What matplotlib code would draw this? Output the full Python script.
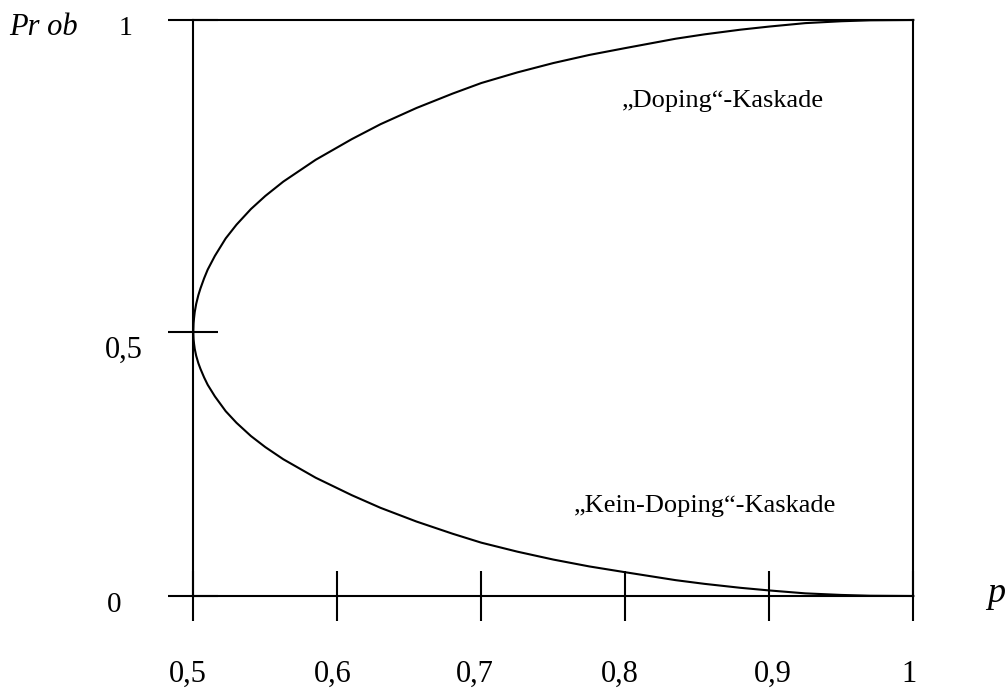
import numpy as np
import matplotlib
matplotlib.use("Agg")
import matplotlib.pyplot as plt
import matplotlib.transforms as mtransforms

# ---- data ----
p_vals = [0.5, 0.5002, 0.5005, 0.501, 0.502, 0.5035, 0.505, 0.5075, 0.51, 0.515,
          0.5225, 0.53, 0.54, 0.55, 0.5625, 0.585, 0.61, 0.63, 0.655, 0.68,
          0.70, 0.725, 0.75, 0.775, 0.80, 0.835, 0.855, 0.88, 0.90, 0.925,
          0.95, 0.97, 1.0]
doping_cascade = [0.5, 0.514, 0.522, 0.532, 0.545, 0.559, 0.570, 0.586, 0.600, 0.622,
                  0.650, 0.672, 0.697, 0.718, 0.741, 0.776, 0.809, 0.833, 0.859, 0.882,
                  0.899, 0.916, 0.931, 0.944, 0.955, 0.970, 0.977, 0.9845, 0.9895, 0.995,
                  0.998, 0.9995, 1.0]
no_doping_cascade = [0.5, 0.486, 0.478, 0.468, 0.455, 0.441, 0.430, 0.414, 0.400, 0.378,
                     0.350, 0.328, 0.303, 0.282, 0.259, 0.224, 0.191, 0.167, 0.141, 0.118,
                     0.101, 0.084, 0.069, 0.056, 0.045, 0.030, 0.023, 0.0155, 0.0105, 0.005,
                     0.002, 0.0005, 0.0]
x_ticks = [0.5, 0.6, 0.7, 0.8, 0.9, 1.0]
x_tick_labels = ["0,5", "0,6", "0,7", "0,8", "0,9", "1"]
y_ticks = [0.0, 0.5, 1.0]
y_tick_labels = ["0", "0,5", "1"]
label_upper = "\u201eDoping\u201c-Kaskade"
label_lower = "\u201eKein-Doping\u201c-Kaskade"

# ---- piecewise linear y scale (0.5 sits below the middle) ----
A = 264.0 / 576.0


def fwd(y):
    y = np.asarray(y, dtype=float)
    return np.where(y <= 0.5, y * A / 0.5, A + (y - 0.5) * (1 - A) / 0.5)


def inv(v):
    v = np.asarray(v, dtype=float)
    return np.where(v <= A, v * 0.5 / A, 0.5 + (v - A) * 0.5 / (1 - A))


plt.rcParams["font.family"] = ["Liberation Serif", "DejaVu Serif"]

fig = plt.figure(figsize=(10.05, 6.89), dpi=100)
W, H = 1005.0, 689.0
ax = fig.add_axes([193.3 / W, (H - 596) / H, 720 / W, 576 / H])
ax.set_yscale("function", functions=(fwd, inv))
ax.set_xlim(0.5, 1.0)
ax.set_ylim(0.0, 1.0)

lw = 1.5
ax.plot(p_vals, doping_cascade, color="black", lw=lw, clip_on=False,
        solid_joinstyle="round")
ax.plot(p_vals, no_doping_cascade, color="black", lw=lw, clip_on=False,
        solid_joinstyle="round")

for s in ax.spines.values():
    s.set_linewidth(lw)
    s.set_color("black")

ax.set_xticks(x_ticks)
ax.set_xticklabels(x_tick_labels, fontsize=22)
ax.tick_params(axis="x", direction="inout", length=36, width=lw, pad=28)
x_label_dx = [-5, -5, -6, -5, 4, -4]
for lbl, dx in zip(ax.get_xticklabels(), x_label_dx):
    lbl.set_transform(lbl.get_transform() +
                      mtransforms.ScaledTranslation(dx / 100.0, 0, fig.dpi_scale_trans))

ax.set_yticks(y_ticks)
ax.set_yticklabels(["", "", ""])
ax.tick_params(axis="y", direction="inout", length=35.3, width=lw)
ax.yaxis.set_minor_locator(matplotlib.ticker.NullLocator())

# y tick labels placed individually (offsets in pixels)
y_label_offsets = [(-78.8, -15.7, 21), (-69.4, -25.7, 22), (-67.6, -15, 20)]
for yv, txt, (dx, dy, fs) in zip(y_ticks, y_tick_labels, y_label_offsets):
    ax.annotate(txt, xy=(0.5, yv), xycoords="data", xytext=(dx, dy),
                textcoords="offset pixels", ha="center", va="baseline",
                fontsize=fs, annotation_clip=False)

ax.annotate("Pr ob", xy=(0.5, 1.0), xycoords="data", xytext=(-149.8, -15),
            textcoords="offset pixels", ha="center", va="baseline", fontsize=22,
            fontstyle="italic", annotation_clip=False)
ax.annotate("p", xy=(1.0, 0.0), xycoords="data", xytext=(82.7, -6),
            textcoords="offset pixels", ha="center", va="baseline", fontsize=26,
            fontstyle="italic", annotation_clip=False)

ax.text(0.868, 0.861, label_upper, ha="center", va="baseline", fontsize=19)
ax.text(0.8557, 0.1597, label_lower, ha="center", va="baseline", fontsize=19)

fig.savefig("out.png", dpi=100)
